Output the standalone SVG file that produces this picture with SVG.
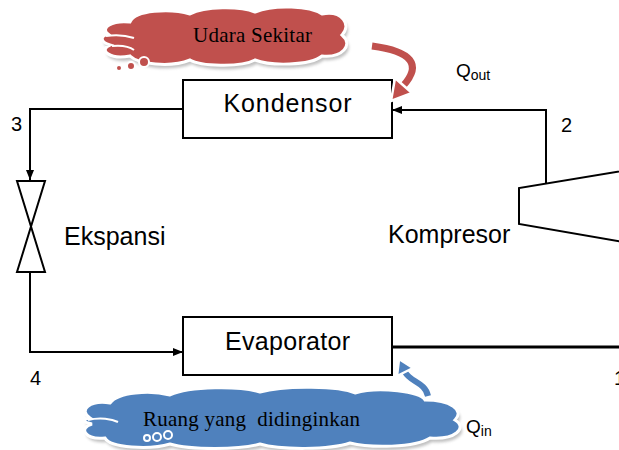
<svg xmlns="http://www.w3.org/2000/svg" width="619" height="450" viewBox="0 0 619 450">
  <style>
    .box { fill: #ffffff; stroke: #000000; stroke-width: 2; }
    .lbl { font-family: "Liberation Sans", Arial, sans-serif; font-size: 25px; fill: #000000; }
    .num { font-family: "Liberation Sans", Arial, sans-serif; font-size: 20px; fill: #000000; }
    .q { font-family: "Liberation Sans", Arial, sans-serif; font-size: 19px; fill: #000000; }
    .qs { font-size: 14px; }
    .cloudtxt { font-family: "Liberation Serif", "Times New Roman", serif; font-size: 21px; fill: #000000; white-space: pre; }
    .line { fill: none; stroke: #000000; stroke-width: 2; }
    .red { fill: #C0504D; stroke: #ffffff; stroke-width: 3; }
    .blue { fill: #4F81BD; stroke: #ffffff; stroke-width: 3; }
    .shadow { fill: #8c8c8c; opacity: 0.55; filter: url(#soft); }
    .inner { fill: none; stroke: #ffffff; stroke-width: 2; }
  </style>
  <defs>
    <marker id="arr" markerWidth="10" markerHeight="8" refX="10" refY="4" orient="auto" markerUnits="userSpaceOnUse">
      <path d="M0,0 L10,4 L0,8 Z" fill="#000000"/>
    </marker>
    <filter id="soft" x="-10%" y="-20%" width="120%" height="140%">
      <feGaussianBlur stdDeviation="1.5"/>
    </filter>
    <path id="redCloud" d="M108,34 C100,28 112,20 130,22 C135,10 170,8 190,14 C205,6 240,6 255,12 C275,4 310,6 322,14 C342,10 352,25 342,35 C354,45 342,58 322,56 C310,66 270,66 255,60 C240,68 200,66 190,60 C170,68 138,64 130,56 C110,60 98,50 110,45 C100,42 100,36 108,34 Z"/>
    <path id="blueCloud" d="M90,418 C78,410 90,400 110,403 C118,392 150,390 170,395 C190,386 240,386 260,392 C285,385 340,386 355,393 C380,386 420,392 425,400 C450,400 465,410 455,420 C468,428 455,440 430,438 C415,448 370,448 350,443 C330,450 280,450 260,444 C240,450 190,450 170,444 C150,450 110,448 105,438 C85,440 78,428 92,424 C82,422 82,419 90,418 Z"/>
  </defs>

  <!-- connectors -->
  <g id="connectors">
    <!-- condenser outlet (3) to expansion valve -->
    <polyline class="line" points="183,109 30,109 30,180" marker-end="url(#arr)"/>
    <!-- expansion valve to evaporator inlet (4) -->
    <polyline class="line" points="30,273 30,352 183,352" marker-end="url(#arr)"/>
    <!-- compressor discharge (2) to condenser -->
    <polyline class="line" points="546,184 546,110 392,110" marker-end="url(#arr)"/>
    <!-- evaporator outlet to compressor suction -->
    <line x1="392" y1="347" x2="619" y2="347" stroke="#000000" stroke-width="3"/>
  </g>

  <!-- condenser -->
  <g id="kondensor">
    <rect class="box" x="183" y="80" width="209" height="58"/>
    <text class="lbl" x="287.5" y="112" text-anchor="middle" textLength="128">Kondensor</text>
  </g>

  <!-- evaporator -->
  <g id="evaporator">
    <rect class="box" x="183" y="317" width="209" height="58"/>
    <text class="lbl" x="287.5" y="350" text-anchor="middle" textLength="125">Evaporator</text>
  </g>

  <!-- expansion valve -->
  <g id="ekspansi">
    <path d="M17,181 L45,181 L17,272 L45,272 Z" fill="#ffffff" stroke="#000000" stroke-width="2" stroke-linejoin="miter"/>
    <text class="lbl" x="64" y="245">Ekspansi</text>
  </g>

  <!-- compressor -->
  <g id="kompresor">
    <path d="M640,168 L519,188 L519,224 L640,245" fill="#ffffff" stroke="#000000" stroke-width="2"/>
    <text class="lbl" x="388" y="243">Kompresor</text>
  </g>

  <!-- state point labels -->
  <g id="state-points">
    <text class="num" x="11" y="131">3</text>
    <text class="num" x="561" y="132">2</text>
    <text class="num" x="30" y="385">4</text>
    <text class="num" x="614" y="385">1</text>
  </g>

  <!-- surroundings (heat sink) -->
  <g id="udara-sekitar">
    <use href="#redCloud" class="shadow" transform="translate(2,4)"/>
    <use href="#redCloud" class="red"/>
    <path class="inner" d="M106,36 C118,34 128,36 134,38 M112,46 C122,45 130,47 134,50"/>
    <circle cx="119" cy="68" r="3" fill="#C0504D" stroke="#ffffff" stroke-width="2"/>
    <circle cx="131" cy="66" r="4" fill="#C0504D" stroke="#ffffff" stroke-width="2"/>
    <circle cx="144" cy="62" r="5" fill="#C0504D" stroke="#ffffff" stroke-width="2"/>
    <text class="cloudtxt" x="193" y="42" textLength="119">Udara Sekitar</text>
  </g>

  <!-- heat rejected -->
  <g id="q-out">
    <path d="M372,46 Q432,54 403,86" fill="none" stroke="#ffffff" stroke-width="12"/>
    <path d="M372,46 Q432,54 403,86" fill="none" stroke="#C0504D" stroke-width="7"/>
    <polygon points="391,101 395,78 412,93" fill="#C0504D" stroke="#ffffff" stroke-width="2.5" stroke-linejoin="round"/>
    <text class="q" x="456" y="77">Q<tspan class="qs" dy="3">out</tspan></text>
  </g>

  <!-- refrigerated space (heat source) -->
  <g id="ruang-didinginkan">
    <use href="#blueCloud" class="shadow" transform="translate(2,4)"/>
    <use href="#blueCloud" class="blue"/>
    <path class="inner" d="M88,420 C100,417 112,419 118,422"/>
    <circle cx="147" cy="438" r="3" fill="#4F81BD" stroke="#ffffff" stroke-width="2"/>
    <circle cx="157" cy="437" r="4" fill="#4F81BD" stroke="#ffffff" stroke-width="2"/>
    <circle cx="168" cy="435" r="4" fill="#4F81BD" stroke="#ffffff" stroke-width="2"/>
    <text class="cloudtxt" x="143" y="426" textLength="217">Ruang yang  didinginkan</text>
  </g>

  <!-- heat absorbed -->
  <g id="q-in">
    <path d="M428,396 C425,382 410,382 405,372" fill="none" stroke="#ffffff" stroke-width="11"/>
    <path d="M428,396 C425,382 410,382 405,372" fill="none" stroke="#4F81BD" stroke-width="6"/>
    <polygon points="399,359 413,368 397,376" fill="#4F81BD" stroke="#ffffff" stroke-width="2.5" stroke-linejoin="round"/>
    <text class="q" x="466" y="433">Q<tspan class="qs" dy="3">in</tspan></text>
  </g>
</svg>
